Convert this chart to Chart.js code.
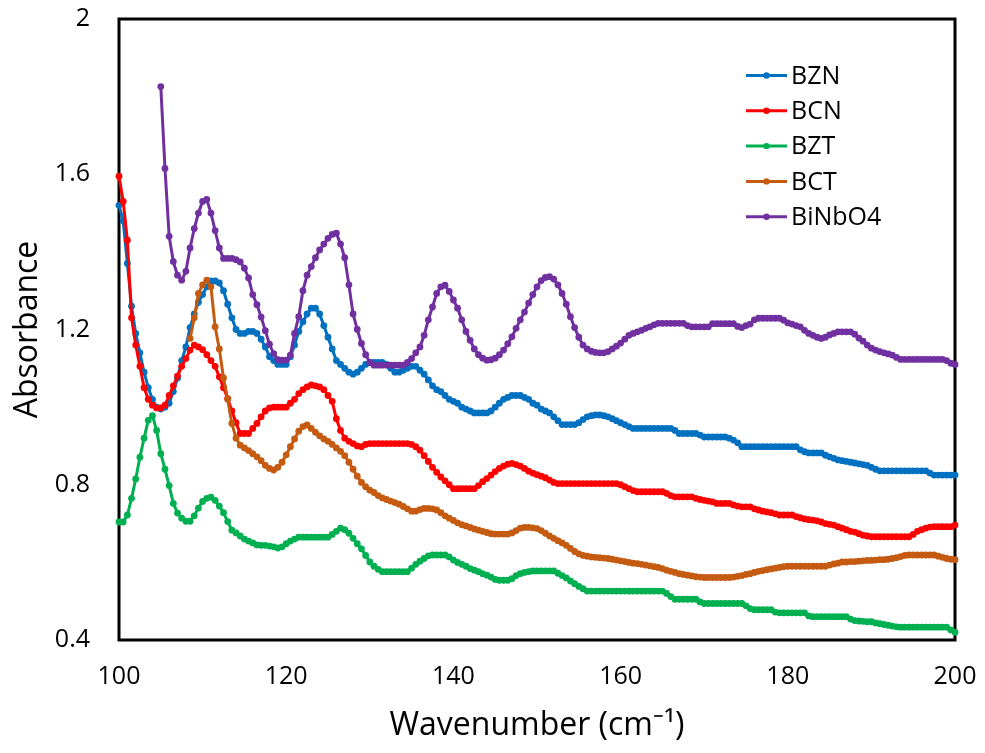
<!DOCTYPE html>
<html><head><meta charset="utf-8">
<script src="https://cdn.jsdelivr.net/npm/chart.js@4"></script>
<style>html,body{margin:0;padding:0;background:#fff}canvas{display:block}</style>
</head><body>
<canvas id="c" width="985" height="753"></canvas>
<script>
// Wavenumber (cm-1) sampling points
const wavenumber = [
100,100.5,101,101.5,102,102.5,103,103.5,104,104.5,
105,105.5,106,106.5,107,107.5,108,108.5,109,109.5,
110,110.5,111,111.5,112,112.5,113,113.5,114,114.5,
115,115.5,116,116.5,117,117.5,118,118.5,119,119.5,
120,120.5,121,121.5,122,122.5,123,123.5,124,124.5,
125,125.5,126,126.5,127,127.5,128,128.5,129,129.5,
130,130.5,131,131.5,132,132.5,133,133.5,134,134.5,
135,135.5,136,136.5,137,137.5,138,138.5,139,139.5,
140,140.5,141,141.5,142,142.5,143,143.5,144,144.5,
145,145.5,146,146.5,147,147.5,148,148.5,149,149.5,
150,150.5,151,151.5,152,152.5,153,153.5,154,154.5,
155,155.5,156,156.5,157,157.5,158,158.5,159,159.5,
160,160.5,161,161.5,162,162.5,163,163.5,164,164.5,
165,165.5,166,166.5,167,167.5,168,168.5,169,169.5,
170,170.5,171,171.5,172,172.5,173,173.5,174,174.5,
175,175.5,176,176.5,177,177.5,178,178.5,179,179.5,
180,180.5,181,181.5,182,182.5,183,183.5,184,184.5,
185,185.5,186,186.5,187,187.5,188,188.5,189,189.5,
190,190.5,191,191.5,192,192.5,193,193.5,194,194.5,
195,195.5,196,196.5,197,197.5,198,198.5,199,199.5,
200];

const BZN = [
1.52,1.48,1.37,1.26,1.19,1.14,1.09,1.05,1.02,1.00,
0.995,1.00,1.01,1.04,1.075,1.12,1.155,1.205,1.24,1.27,
1.29,1.31,1.325,1.325,1.32,1.30,1.265,1.23,1.20,1.19,
1.19,1.195,1.195,1.19,1.175,1.155,1.13,1.12,1.11,1.11,
1.11,1.13,1.16,1.195,1.22,1.24,1.255,1.255,1.24,1.21,
1.18,1.15,1.12,1.11,1.10,1.09,1.085,1.09,1.10,1.11,
1.115,1.115,1.115,1.115,1.11,1.10,1.09,1.09,1.095,1.10,
1.105,1.105,1.095,1.085,1.07,1.055,1.045,1.04,1.03,1.02,
1.015,1.01,1.00,0.995,0.99,0.985,0.985,0.985,0.985,0.99,
1.00,1.01,1.02,1.025,1.03,1.03,1.03,1.025,1.02,1.01,
1.005,0.995,0.99,0.985,0.975,0.965,0.955,0.955,0.955,0.955,
0.96,0.968,0.975,0.978,0.98,0.98,0.978,0.975,0.97,0.965,
0.96,0.955,0.95,0.945,0.945,0.945,0.945,0.945,0.945,0.945,
0.945,0.945,0.945,0.94,0.932,0.932,0.932,0.932,0.932,0.928,
0.923,0.923,0.923,0.923,0.923,0.923,0.92,0.915,0.908,0.898,
0.898,0.898,0.898,0.898,0.898,0.898,0.898,0.898,0.898,0.898,
0.898,0.898,0.898,0.89,0.885,0.882,0.882,0.882,0.882,0.876,
0.872,0.868,0.864,0.862,0.86,0.858,0.856,0.854,0.852,0.85,
0.845,0.84,0.836,0.836,0.836,0.836,0.836,0.836,0.836,0.836,
0.836,0.836,0.836,0.836,0.83,0.825,0.825,0.825,0.825,0.825,
0.825];

const BCN = [
1.595,1.53,1.43,1.23,1.16,1.105,1.05,1.02,1.005,0.998,
0.998,1.005,1.03,1.055,1.08,1.105,1.125,1.147,1.16,1.155,
1.148,1.135,1.12,1.105,1.078,1.05,1.022,0.99,0.96,0.932,
0.932,0.932,0.945,0.958,0.975,0.99,0.998,1.0,1.0,1.0,
1.0,1.01,1.02,1.035,1.045,1.052,1.057,1.055,1.052,1.045,
1.03,1.015,0.97,0.94,0.92,0.912,0.906,0.9,0.898,0.904,
0.906,0.906,0.906,0.906,0.906,0.906,0.906,0.906,0.906,0.906,
0.904,0.898,0.889,0.875,0.86,0.845,0.832,0.82,0.81,0.8,
0.79,0.79,0.79,0.79,0.79,0.79,0.798,0.808,0.816,0.825,
0.834,0.842,0.848,0.853,0.855,0.852,0.848,0.842,0.835,0.83,
0.826,0.822,0.818,0.812,0.806,0.803,0.803,0.803,0.803,0.803,
0.803,0.803,0.803,0.803,0.803,0.803,0.803,0.803,0.803,0.803,
0.8,0.795,0.79,0.785,0.782,0.782,0.782,0.782,0.782,0.782,
0.782,0.778,0.772,0.769,0.769,0.769,0.769,0.769,0.765,0.762,
0.76,0.758,0.756,0.752,0.752,0.752,0.752,0.748,0.745,0.743,
0.743,0.743,0.738,0.735,0.732,0.73,0.728,0.725,0.722,0.722,
0.722,0.722,0.718,0.715,0.712,0.71,0.709,0.707,0.704,0.7,
0.698,0.696,0.692,0.688,0.684,0.68,0.678,0.674,0.67,0.668,
0.666,0.666,0.666,0.666,0.666,0.666,0.666,0.666,0.666,0.666,
0.672,0.68,0.684,0.688,0.691,0.692,0.692,0.692,0.692,0.692,
0.696];

const BZT = [
0.704,0.704,0.722,0.765,0.815,0.871,0.92,0.966,0.978,0.94,
0.88,0.84,0.798,0.752,0.727,0.714,0.706,0.706,0.72,0.74,
0.757,0.765,0.768,0.76,0.745,0.728,0.705,0.683,0.676,0.668,
0.66,0.655,0.65,0.645,0.644,0.644,0.642,0.64,0.637,0.64,
0.648,0.655,0.66,0.665,0.665,0.665,0.665,0.665,0.665,0.665,
0.665,0.672,0.68,0.688,0.684,0.675,0.662,0.648,0.635,0.618,
0.601,0.59,0.582,0.576,0.576,0.576,0.576,0.576,0.576,0.576,
0.585,0.595,0.603,0.61,0.617,0.619,0.619,0.619,0.619,0.614,
0.606,0.6,0.595,0.59,0.584,0.58,0.576,0.571,0.567,0.562,
0.556,0.554,0.554,0.554,0.558,0.566,0.571,0.574,0.576,0.578,
0.578,0.578,0.578,0.578,0.578,0.572,0.566,0.56,0.552,0.545,
0.538,0.532,0.526,0.526,0.526,0.526,0.526,0.526,0.526,0.526,
0.526,0.526,0.526,0.526,0.526,0.526,0.526,0.526,0.526,0.526,
0.526,0.52,0.512,0.505,0.505,0.505,0.505,0.505,0.505,0.498,
0.494,0.494,0.494,0.494,0.494,0.494,0.494,0.494,0.494,0.494,
0.488,0.481,0.478,0.478,0.478,0.478,0.478,0.472,0.47,0.47,
0.47,0.47,0.47,0.47,0.47,0.462,0.46,0.46,0.46,0.46,
0.46,0.46,0.46,0.46,0.46,0.454,0.45,0.449,0.448,0.447,
0.447,0.444,0.442,0.44,0.438,0.436,0.434,0.433,0.433,0.433,
0.433,0.433,0.433,0.433,0.433,0.433,0.433,0.433,0.433,0.426,
0.42];

const BCT = [
null,null,null,null,null,null,null,null,null,null,
null,null,null,null,null,null,null,1.177,1.23,1.293,
1.315,1.327,1.31,1.207,1.15,1.075,1.02,0.958,0.92,0.902,
0.895,0.888,0.88,0.872,0.862,0.85,0.842,0.838,0.845,0.858,
0.877,0.898,0.918,0.938,0.95,0.954,0.945,0.935,0.926,0.918,
0.912,0.904,0.895,0.886,0.875,0.858,0.84,0.822,0.806,0.795,
0.786,0.78,0.772,0.766,0.762,0.758,0.754,0.75,0.744,0.738,
0.732,0.732,0.736,0.739,0.739,0.738,0.735,0.728,0.72,0.714,
0.708,0.702,0.697,0.694,0.69,0.686,0.683,0.68,0.677,0.674,
0.673,0.673,0.673,0.673,0.676,0.682,0.688,0.69,0.69,0.689,
0.687,0.682,0.675,0.668,0.662,0.656,0.65,0.644,0.636,0.628,
0.622,0.618,0.616,0.614,0.613,0.612,0.611,0.61,0.608,0.606,
0.604,0.602,0.6,0.598,0.597,0.595,0.593,0.591,0.589,0.587,
0.584,0.58,0.577,0.574,0.571,0.569,0.567,0.565,0.563,0.562,
0.561,0.561,0.561,0.561,0.561,0.561,0.561,0.562,0.564,0.566,
0.569,0.571,0.574,0.577,0.579,0.581,0.583,0.585,0.587,0.589,
0.59,0.59,0.59,0.59,0.59,0.59,0.59,0.59,0.59,0.59,
0.593,0.596,0.598,0.601,0.601,0.602,0.602,0.603,0.604,0.605,
0.605,0.606,0.607,0.607,0.608,0.61,0.612,0.615,0.618,0.619,
0.619,0.619,0.619,0.619,0.619,0.619,0.616,0.613,0.61,0.608,
0.607];

const BiNbO4 = [
null,null,null,null,null,null,null,null,null,null,
1.826,1.615,1.44,1.375,1.34,1.327,1.35,1.41,1.46,1.5,
1.53,1.535,1.5,1.455,1.41,1.383,1.383,1.383,1.38,1.374,
1.358,1.333,1.29,1.264,1.232,1.197,1.162,1.138,1.122,1.121,
1.121,1.134,1.19,1.233,1.3,1.34,1.362,1.385,1.405,1.42,
1.435,1.445,1.448,1.42,1.385,1.315,1.24,1.2,1.164,1.135,
1.115,1.108,1.108,1.108,1.108,1.108,1.108,1.108,1.108,1.115,
1.125,1.14,1.155,1.185,1.225,1.258,1.293,1.31,1.314,1.298,
1.276,1.255,1.225,1.195,1.172,1.15,1.135,1.126,1.121,1.122,
1.126,1.135,1.147,1.163,1.181,1.203,1.225,1.245,1.268,1.29,
1.31,1.326,1.334,1.336,1.33,1.315,1.293,1.265,1.233,1.205,
1.18,1.16,1.15,1.144,1.141,1.14,1.14,1.143,1.15,1.157,
1.165,1.175,1.185,1.19,1.194,1.198,1.203,1.207,1.212,1.216,
1.216,1.216,1.216,1.216,1.216,1.216,1.21,1.207,1.207,1.207,
1.207,1.207,1.215,1.215,1.215,1.215,1.215,1.215,1.208,1.205,
1.21,1.214,1.225,1.229,1.229,1.229,1.229,1.229,1.229,1.224,
1.217,1.214,1.21,1.207,1.198,1.19,1.185,1.18,1.177,1.18,
1.186,1.19,1.194,1.194,1.194,1.194,1.188,1.178,1.17,1.16,
1.152,1.147,1.143,1.14,1.137,1.134,1.128,1.123,1.123,1.123,
1.123,1.123,1.123,1.123,1.123,1.123,1.123,1.123,1.12,1.113,
1.11];

const seriesNames = ['BZN', 'BCN', 'BZT', 'BCT', 'BiNbO4'];
const seriesValues = [BZN, BCN, BZT, BCT, BiNbO4];
const seriesColors = ['#0070C0', '#FF0000', '#00B050', '#C55A11', '#7030A0'];
const xTickValues = [100, 120, 140, 160, 180, 200];
const yTickValues = [0.4, 0.8, 1.2, 1.6, 2];

const FONT = "'Open Sans', 'Liberation Sans', sans-serif";

const datasets = seriesNames.map((name, k) => ({
  label: name,
  data: wavenumber.map((x, i) => ({ x: x, y: seriesValues[k][i] })),
  borderColor: seriesColors[k],
  backgroundColor: seriesColors[k],
  borderWidth: 3,
  pointRadius: 3.4,
  pointBorderWidth: 0,
  pointBackgroundColor: seriesColors[k],
  tension: 0,
  spanGaps: false,
  clip: false,
  order: seriesNames.length - k
}));

const framePlugin = {
  id: 'frame',
  beforeDatasetsDraw(chart) {
    const { ctx, chartArea: a } = chart;
    ctx.save();
    ctx.strokeStyle = '#000';
    ctx.lineWidth = 3;
    ctx.strokeRect(a.left, a.top, a.right - a.left, a.bottom - a.top);
    ctx.restore();
  }
};

const legendPlugin = {
  id: 'insideLegend',
  afterDraw(chart) {
    const { ctx } = chart;
    const x0 = 746, x1 = 787, y0 = 75.5, dy = 35.3;
    ctx.save();
    ctx.font = '25px ' + FONT;
    ctx.textBaseline = 'middle';
    ctx.textAlign = 'left';
    chart.data.datasets.forEach((ds, i) => {
      const y = y0 + i * dy;
      ctx.strokeStyle = ds.borderColor;
      ctx.lineWidth = 3;
      ctx.beginPath();
      ctx.moveTo(x0, y);
      ctx.lineTo(x1, y);
      ctx.stroke();
      ctx.fillStyle = ds.borderColor;
      ctx.beginPath();
      ctx.arc((x0 + x1) / 2, y, 3.2, 0, Math.PI * 2);
      ctx.fill();
      ctx.fillStyle = '#000';
      ctx.fillText(ds.label, 791, y + 1);
    });
    ctx.restore();
  }
};

new Chart(document.getElementById('c'), {
  type: 'line',
  data: { datasets: datasets },
  options: {
    responsive: false,
    animation: false,
    layout: { padding: { top: 19, right: 30, left: 0, bottom: 0 } },
    plugins: { legend: { display: false }, tooltip: { enabled: false } },
    scales: {
      x: {
        type: 'linear',
        min: 100, max: 200,
        grid: { display: false, drawTicks: false },
        border: { display: false },
        afterBuildTicks: (s) => { s.ticks = xTickValues.map(v => ({ value: v })); },
        afterFit: (s) => { s.height = 113; s.paddingLeft = 0; s.paddingRight = 0; },
        ticks: { font: { family: FONT, size: 25 }, color: '#000', padding: 22, maxRotation: 0, callback: (v) => String(v) },
        title: { display: true, text: 'Wavenumber (cm\u207B\u00B9)', font: { family: FONT, size: 32 }, color: '#000', padding: { top: 0, bottom: 8 } }
      },
      y: {
        type: 'linear',
        min: 0.4, max: 2,
        grid: { display: false, drawTicks: false },
        border: { display: false },
        afterBuildTicks: (s) => { s.ticks = yTickValues.map(v => ({ value: v })); },
        afterFit: (s) => { s.width = 119; s.paddingTop = 0; s.paddingBottom = 0; },
        ticks: { font: { family: FONT, size: 25 }, color: '#000', padding: 29, callback: (v) => String(v) },
        title: { display: true, text: 'Absorbance', font: { family: FONT, size: 32 }, color: '#000', padding: { top: 9, bottom: 0 } }
      }
    }
  },
  plugins: [framePlugin, legendPlugin]
});
</script>
</body></html>
